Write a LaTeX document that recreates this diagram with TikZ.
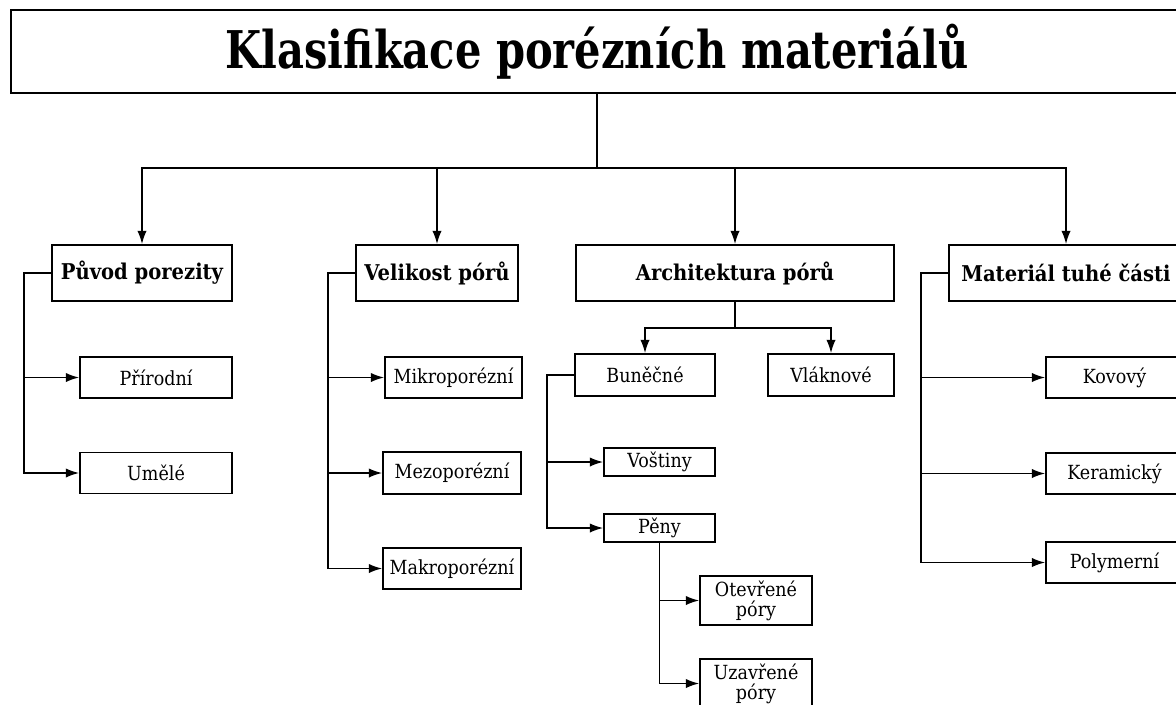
\documentclass[tikz,border=0pt]{standalone}
\usepackage{fontspec}
\setmainfont{DejaVu Serif}[FakeStretch=0.9]
\newfontfamily\titlefont{DejaVu Serif}[FakeStretch=0.8]
\usetikzlibrary{arrows.meta,calc}

\tikzset{
    box/.style={draw, line width=1.25pt, inner sep=0pt, align=center,
        font=\fontsize{14.6}{17}\selectfont},
    headbox/.style={box, font=\fontsize{16.3}{19}\selectfont\bfseries},
    arr/.style={line width=1.25pt, -{Latex[length=10pt,width=7pt]}},
    conn/.style={line width=1.25pt}
}

\begin{document}
\begin{tikzpicture}[x=0.75pt, y=-0.75pt]
        \useasboundingbox (0, 0) rectangle (1176, 704);

        % Title
        \node[draw, line width=1.6pt, minimum width=1172*0.75pt, minimum height=83*0.75pt,
            font=\titlefont\fontsize{39}{44}\selectfont\bfseries] (title) at (597, 51.5) {Klasifikace porézních materiálů};

        % Main groups
        \node[headbox, minimum width=180*0.75pt, minimum height=56*0.75pt] (puvod) at (142, 273) {Původ porezity};
        \node[headbox, minimum width=162*0.75pt, minimum height=56*0.75pt] (velikost) at (437, 273) {Velikost pórů};
        \node[headbox, minimum width=318*0.75pt, minimum height=56*0.75pt] (archit) at (735, 273) {Architektura pórů};
        \node[headbox, minimum width=234*0.75pt, minimum height=56*0.75pt] (material) at (1066, 273) {Materiál tuhé části};

        \coordinate (split) at (597, 168);
        \draw[conn] (title.south) -- (split);
        \foreach \g in {puvod, velikost, archit, material}
            \draw[arr] (split) -| (\g.north);

        % Původ porezity
        \node[box, minimum width=152*0.75pt, minimum height=41*0.75pt] (prirodni) at (156, 377.5) {Přírodní};
        \node[box, minimum width=152*0.75pt, minimum height=41*0.75pt] (umele) at (156, 473) {Umělé};
        \coordinate (pbr) at (24, 473);
        \draw[arr] (puvod.west) -| (pbr) -- (umele.west);
        \draw[arr] (pbr |- prirodni.west) -- (prirodni.west);

        % Velikost pórů
        \node[box, minimum width=137*0.75pt, minimum height=41*0.75pt] (mikro) at (453.5, 377.5) {Mikroporézní};
        \node[box, minimum width=138*0.75pt, minimum height=42*0.75pt] (mezo) at (452, 473) {Mezoporézní};
        \node[box, minimum width=138*0.75pt, minimum height=41*0.75pt] (makro) at (452, 568.5) {Makroporézní};
        \coordinate (vbr) at (328, 568.5);
        \draw[arr] (velikost.west) -| (vbr) -- (makro.west);
        \draw[arr] (vbr |- mikro.west) -- (mikro.west);
        \draw[arr] (vbr |- mezo.west) -- (mezo.west);

        % Architektura pórů
        \node[box, minimum width=140*0.75pt, minimum height=42*0.75pt] (bunecne) at (645, 375) {Buněčné};
        \node[box, minimum width=126*0.75pt, minimum height=42*0.75pt] (vlaknove) at (831, 375) {Vláknové};
        \coordinate (asplit) at (735, 328);
        \draw[conn] (archit.south) -- (asplit);
        \draw[arr] (asplit) -| (bunecne.north);
        \draw[arr] (asplit) -| (vlaknove.north);

        \node[box, minimum width=111*0.75pt, minimum height=28*0.75pt] (vostiny) at (659.5, 462) {Voštiny};
        \node[box, minimum width=111*0.75pt, minimum height=28*0.75pt] (peny) at (659.5, 528) {Pěny};
        \coordinate (bbr) at (547, 528);
        \draw[arr] (bunecne.west) -| (bbr) -- (peny.west);
        \draw[arr] (bbr |- vostiny.west) -- (vostiny.west);

        \node[box, minimum width=112*0.75pt, minimum height=49*0.75pt] (otevrene) at (756, 600.5) {Otevřené\\[-2pt]póry};
        \node[box, minimum width=112*0.75pt, minimum height=49*0.75pt] (uzavrene) at (756, 683.5) {Uzavřené\\[-2pt]póry};
        \coordinate (pbr2) at (peny.south |- uzavrene.west);
        \draw[arr] (peny.south) -- (pbr2) -- (uzavrene.west);
        \draw[arr] (pbr2 |- otevrene.west) -- (otevrene.west);

        % Materiál tuhé části
        \node[box, minimum width=137*0.75pt, minimum height=41*0.75pt] (kovovy) at (1114.5, 377.5) {Kovový};
        \node[box, minimum width=137*0.75pt, minimum height=41*0.75pt] (keramicky) at (1114.5, 473.5) {Keramický};
        \node[box, minimum width=137*0.75pt, minimum height=41*0.75pt] (polymerni) at (1114.5, 562.5) {Polymerní};
        \coordinate (mbr) at (921, 562.5);
        \draw[arr] (material.west) -| (mbr) -- (polymerni.west);
        \draw[arr] (mbr |- kovovy.west) -- (kovovy.west);
        \draw[arr] (mbr |- keramicky.west) -- (keramicky.west);

    \end{tikzpicture}
\end{document}
